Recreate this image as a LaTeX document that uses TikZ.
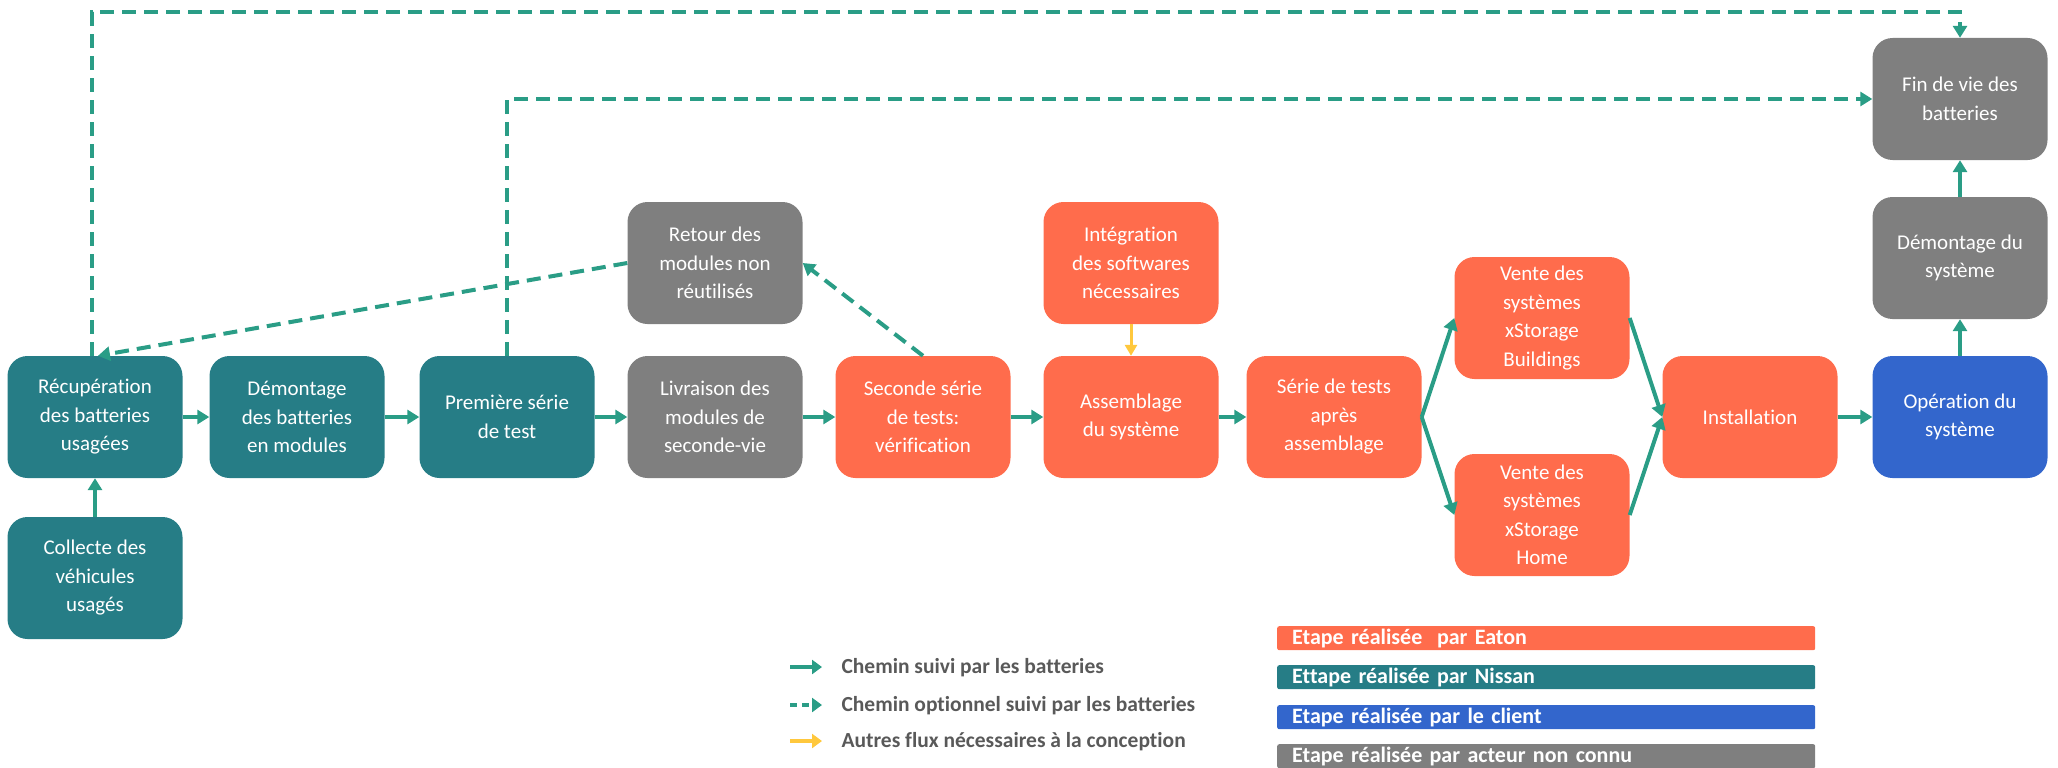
\documentclass[tikz,border=0pt]{standalone}
\usepackage{fontspec}
\setmainfont{Carlito}[Ligatures=NoCommon]
\usetikzlibrary{arrows.meta}
\definecolor{nissan}{HTML}{267D86}
\definecolor{eaton}{HTML}{FF6C4C}
\definecolor{client}{HTML}{3366CC}
\definecolor{unk}{HTML}{7F7F7F}
\definecolor{flow}{HTML}{2A9D86}
\definecolor{other}{HTML}{FFC83D}
\definecolor{legtxt}{HTML}{595959}
\tikzset{
  box/.style={rounded corners=20pt, minimum width=175pt, minimum height=122pt,
    text=white, align=center, font=\fontsize{21}{28.5}\selectfont, inner sep=0pt},
  flowarrow/.style={draw=flow, line width=4pt, -{Triangle[length=12pt,width=14pt]}},
  dasharrow/.style={flowarrow, dash pattern=on 14pt off 8pt},
  otherarrow/.style={draw=other, line width=3pt, -{Triangle[length=11pt,width=12pt]}},
  legbar/.style={anchor=north west, rounded corners=2pt, minimum width=538pt,
    minimum height=24pt, text width=522pt, inner xsep=8pt, inner ysep=0pt, align=left,
    text=white, font=\fontsize{22}{22}\selectfont\bfseries},
  legtext/.style={anchor=west, text=legtxt, font=\fontsize{21.5}{22}\selectfont\bfseries}
}
\begin{document}
\begin{tikzpicture}[x=1pt,y=-1pt]
\useasboundingbox (0,0) rectangle (2058,768);
% boxes
\node[box,fill=nissan] (recup) at (95,417) {Récupération\\des batteries\\usagées};
\node[box,fill=nissan] (collecte) at (95,578) {Collecte des\\véhicules\\usagés};
\node[box,fill=nissan] (demb) at (297,417) {Démontage\\des batteries\\en modules};
\node[box,fill=nissan] (prem) at (507,417) {Première série\\de test};
\node[box,fill=unk] (livr) at (715,417) {Livraison des\\modules de\\seconde-vie};
\node[box,fill=eaton] (sec) at (923,417) {Seconde série\\de tests:\\vérification};
\node[box,fill=eaton] (assem) at (1131,417) {Assemblage\\du système};
\node[box,fill=eaton] (serie) at (1334,417) {Série de tests\\après\\assemblage};
\node[box,fill=eaton] (vb) at (1542,318) {Vente des\\systèmes\\xStorage\\Buildings};
\node[box,fill=eaton] (vh) at (1542,515) {Vente des\\systèmes\\xStorage\\Home};
\node[box,fill=eaton] (inst) at (1750,417) {Installation};
\node[box,fill=client] (oper) at (1960,417) {Opération du\\système};
\node[box,fill=unk] (demsys) at (1960,258) {Démontage du\\système};
\node[box,fill=unk] (fin) at (1960,99) {Fin de vie des\\batteries};
\node[box,fill=unk] (retour) at (715,263) {Retour des\\modules non\\réutilisés};
\node[box,fill=eaton] (integ) at (1131,263) {Intégration\\des softwares\\nécessaires};
% solid flow
\draw[flowarrow] (collecte) -- (recup);
\draw[flowarrow] (recup) -- (demb);
\draw[flowarrow] (demb) -- (prem);
\draw[flowarrow] (prem) -- (livr);
\draw[flowarrow] (livr) -- (sec);
\draw[flowarrow] (sec) -- (assem);
\draw[flowarrow] (assem) -- (serie);
\draw[flowarrow] (serie.east) -- (vb.west);
\draw[flowarrow] (serie.east) -- (vh.west);
\draw[flowarrow] (vb.east) -- (inst.west);
\draw[flowarrow] (vh.east) -- (inst.west);
\draw[flowarrow] (inst) -- (oper);
\draw[flowarrow] (oper) -- (demsys);
\draw[flowarrow] (demsys) -- (fin);
\draw[otherarrow] (integ) -- (assem);
% dashed flow
\draw[dasharrow] ([xshift=-3pt]recup.north) -- ([xshift=-3pt]recup.north |- 0,12) -| (fin.north);
\draw[dasharrow] (prem.north) -- (prem.north |- fin.west) -- (fin.west);
\draw[dasharrow] (retour.west) -- ([xshift=3pt]recup.north);
\draw[dasharrow] (sec.north) -- (retour.east);
% legend
\coordinate (l1a) at (790,667); \coordinate (l1b) at (822,667);
\coordinate (l2a) at (790,705); \coordinate (l2b) at (822,705);
\coordinate (l3a) at (790,741); \coordinate (l3b) at (822,741);
\draw[flowarrow,-{Triangle[length=10pt,width=14pt]}] (l1a) -- (l1b);
\draw[flowarrow,dash pattern=on 7pt off 5pt,-{Triangle[length=10pt,width=14pt]}] (l2a) -- (l2b);
\draw[otherarrow,line width=4pt,-{Triangle[length=10pt,width=14pt]}] (l3a) -- (l3b);
\node[legtext] (t1) at (838,668) {Chemin suivi par les batteries};
\node[legtext] (t2) at (838,706) {Chemin optionnel suivi par les batteries};
\node[legtext] (t3) at (838,742) {Autres flux nécessaires à la conception};
\node[legbar,fill=eaton,inner xsep=15pt,text width=508pt] (b1) at (1277,626) {Etape réalisée\ \ par Eaton};
\node[legbar,fill=nissan,inner xsep=15pt,text width=508pt] (b2) at (1277,665) {Ettape réalisée par Nissan};
\node[legbar,fill=client,inner xsep=15pt,text width=508pt] (b3) at (1277,705) {Etape réalisée par le client};
\node[legbar,fill=unk,inner xsep=15pt,text width=508pt] (b4) at (1277,744) {Etape réalisée par acteur non connu};
\end{tikzpicture}
\end{document}
